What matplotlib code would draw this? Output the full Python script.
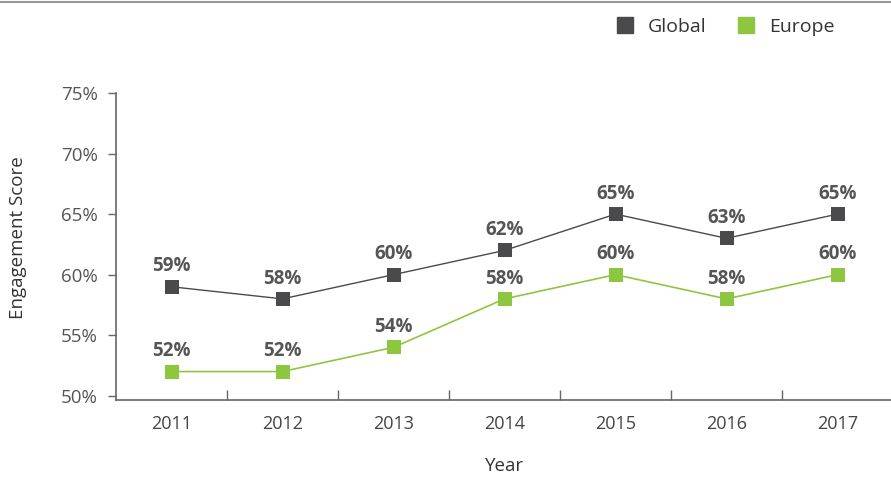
import matplotlib.pyplot as plt
from matplotlib.lines import Line2D

years = ['2011', '2012', '2013', '2014', '2015', '2016', '2017']
global_scores = [59, 58, 60, 62, 65, 63, 65]
europe_scores = [52, 52, 54, 58, 60, 58, 60]
y_ticks = [50, 55, 60, 65, 70, 75]

plt.rcParams['font.family'] = ['Open Sans', 'DejaVu Sans']

fig = plt.figure(figsize=(8.91, 4.78), dpi=100)
ax = fig.add_axes([116/891, 78/478, 777/891, 307/478])

x = range(len(years))
ax.plot(x, global_scores, color='#4a4a4c', lw=1, marker='s', ms=10.5, mew=0, zorder=3)
ax.plot(x, europe_scores, color='#8dc63f', lw=1.2, marker='s', ms=10.5, mew=0, zorder=3)

for i in x:
    ax.annotate(f'{global_scores[i]}%', (i, global_scores[i]), xytext=(0, 11),
                textcoords='offset points', ha='center', fontsize=13.5,
                fontweight='bold', color='#555555')
    ax.annotate(f'{europe_scores[i]}%', (i, europe_scores[i]), xytext=(0, 11),
                textcoords='offset points', ha='center', fontsize=13.5,
                fontweight='bold', color='#555555')

ax.set_xlim(-0.5, 6.5)
ax.set_ylim(49.65, 75)
ax.set_yticks(y_ticks)
ax.set_yticklabels([f'{v}%' for v in y_ticks])
ax.set_xticks(x)
ax.set_xticklabels(years)
ax.set_xticks([i + 0.5 for i in range(6)], minor=True)

for s in ['top', 'right']:
    ax.spines[s].set_visible(False)
for s in ['left', 'bottom']:
    ax.spines[s].set_color('#666666')
    ax.spines[s].set_linewidth(1.2)

ax.tick_params(axis='y', length=6, width=1, color='#666666', labelsize=13.5,
               labelcolor='#555555', pad=7)
ax.tick_params(axis='x', which='major', length=0, labelsize=13,
               labelcolor='#444444', pad=11)
ax.tick_params(axis='x', which='minor', length=7, width=1, color='#666666',
               direction='in')

ax.set_ylabel('Engagement Score', fontsize=13.5, color='#333333')
ax.yaxis.set_label_coords(-0.1145, 0.53)
ax.set_xlabel('Year', fontsize=13.5, color='#333333', labelpad=17)

fig.add_artist(Line2D([0, 1], [1 - 2/478, 1 - 2/478], color='#999999', lw=1.5))

handles = [Line2D([], [], color='#4a4a4c', marker='s', ms=11, ls='none'),
           Line2D([], [], color='#8dc63f', marker='s', ms=11, ls='none')]
fig.legend(handles, ['Global', 'Europe'], loc='center', bbox_to_anchor=(720/891, 1 - 27/478),
           ncol=2, frameon=False, fontsize=14, handletextpad=0.2, columnspacing=1.0,
           labelcolor='#333333')

fig.savefig('out.png', dpi=100)
